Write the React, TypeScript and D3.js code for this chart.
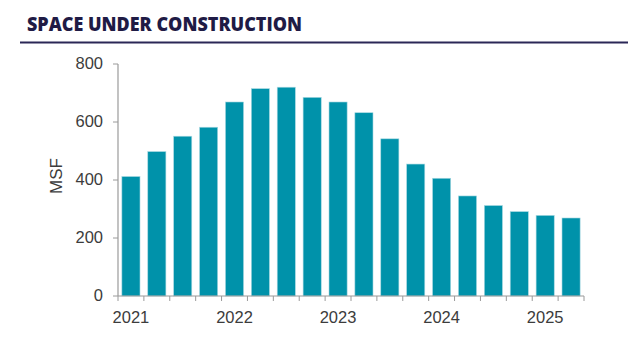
import React, { useEffect, useRef } from "react";
import * as d3 from "d3";

const quarters = [
  "2021 Q1", "2021 Q2", "2021 Q3", "2021 Q4",
  "2022 Q1", "2022 Q2", "2022 Q3", "2022 Q4",
  "2023 Q1", "2023 Q2", "2023 Q3", "2023 Q4",
  "2024 Q1", "2024 Q2", "2024 Q3", "2024 Q4",
  "2025 Q1", "2025 Q2",
];
const underConstruction = [
  412, 498, 551, 582, 669, 715, 720, 685, 669, 632, 542, 455, 406, 345, 312, 291, 278, 269,
];
const yTicks = [0, 200, 400, 600, 800];

export default function App() {
  const svgRef = useRef<SVGSVGElement>(null);
  const width = 640;
  const height = 352;

  useEffect(() => {
    const svg = d3.select(svgRef.current);
    svg.selectAll("*").remove();

    const margin = { top: 64, right: 56, bottom: 56, left: 118 };
    const labelFont = "Arial, 'Liberation Sans', sans-serif";

    // title + rule
    svg
      .append("text")
      .attr("x", 27)
      .attr("y", 30.5)
      .attr("textLength", 275)
      .attr("lengthAdjust", "spacingAndGlyphs")
      .text("SPACE UNDER CONSTRUCTION")
      .style("font-family", "'Open Sans', Lato, sans-serif")
      .style("font-weight", 800)
      .style("font-size", "20px")
      .style("fill", "#1f1b45");

    svg
      .append("line")
      .attr("x1", 20)
      .attr("x2", 628)
      .attr("y1", 42.5)
      .attr("y2", 42.5)
      .attr("stroke", "#2b2757")
      .attr("stroke-width", 2);

    const x = d3
      .scaleBand()
      .domain(quarters)
      .range([margin.left, width - margin.right])
      .paddingInner(0.3)
      .paddingOuter(0.15);

    const y = d3
      .scaleLinear()
      .domain([0, 800])
      .range([height - margin.bottom, margin.top]);

    // bars
    svg
      .append("g")
      .selectAll("rect")
      .data(underConstruction)
      .join("rect")
      .attr("x", (d, i) => x(quarters[i]))
      .attr("y", (d) => y(d))
      .attr("width", x.bandwidth())
      .attr("height", (d) => y(0) - y(d))
      .attr("fill", "#0092aa")
      .attr("stroke", "#a9d9e2")
      .attr("stroke-width", 0.6);

    // x axis
    const xAxis = svg
      .append("g")
      .attr("transform", `translate(0,${y(0)})`);
    xAxis
      .append("line")
      .attr("x1", margin.left)
      .attr("x2", width - margin.right)
      .attr("stroke", "#9a9a9a")
      .attr("stroke-width", 1.2);
    const step = x.step();
    xAxis
      .selectAll("line.tick")
      .data(d3.range(quarters.length + 1))
      .join("line")
      .attr("class", "tick")
      .attr("x1", (i) => margin.left + i * step)
      .attr("x2", (i) => margin.left + i * step)
      .attr("y1", 0)
      .attr("y2", 5)
      .attr("stroke", "#9a9a9a");
    xAxis
      .selectAll("text")
      .data(quarters.filter((q) => q.endsWith("Q1")))
      .join("text")
      .attr("x", (q) => (x(q) as number) + x.bandwidth() / 2)
      .attr("y", 27)
      .attr("text-anchor", "middle")
      .text((q) => q.slice(0, 4))
      .style("font-family", labelFont)
      .style("font-size", "16.5px")
      .style("fill", "#3c3c3c");

    // y axis
    const yAxis = svg.append("g").attr("transform", `translate(${margin.left},0)`);
    yAxis
      .append("line")
      .attr("y1", y(800))
      .attr("y2", y(0))
      .attr("stroke", "#9a9a9a")
      .attr("stroke-width", 1.2);
    yAxis
      .selectAll("line.tick")
      .data(yTicks)
      .join("line")
      .attr("class", "tick")
      .attr("x1", -5)
      .attr("x2", 0)
      .attr("y1", (d) => y(d))
      .attr("y2", (d) => y(d))
      .attr("stroke", "#9a9a9a");
    yAxis
      .selectAll("text")
      .data(yTicks)
      .join("text")
      .attr("x", -15)
      .attr("y", (d) => y(d) + 4.5)
      .attr("text-anchor", "end")
      .text((d) => d)
      .style("font-family", labelFont)
      .style("font-size", "16.5px")
      .style("fill", "#3c3c3c");

    svg
      .append("text")
      .attr("transform", `translate(61.5,${(y(0) + y(800)) / 2 - 4})rotate(-90)`)
      .attr("text-anchor", "middle")
      .text("MSF")
      .style("font-family", labelFont)
      .style("font-size", "17px")
      .style("fill", "#3c3c3c");
  }, []);

  return (
    <svg
      ref={svgRef}
      width={width}
      height={height}
      style={{ position: "absolute", left: 0, top: 0, background: "#fff" }}
    ></svg>
  );
}
